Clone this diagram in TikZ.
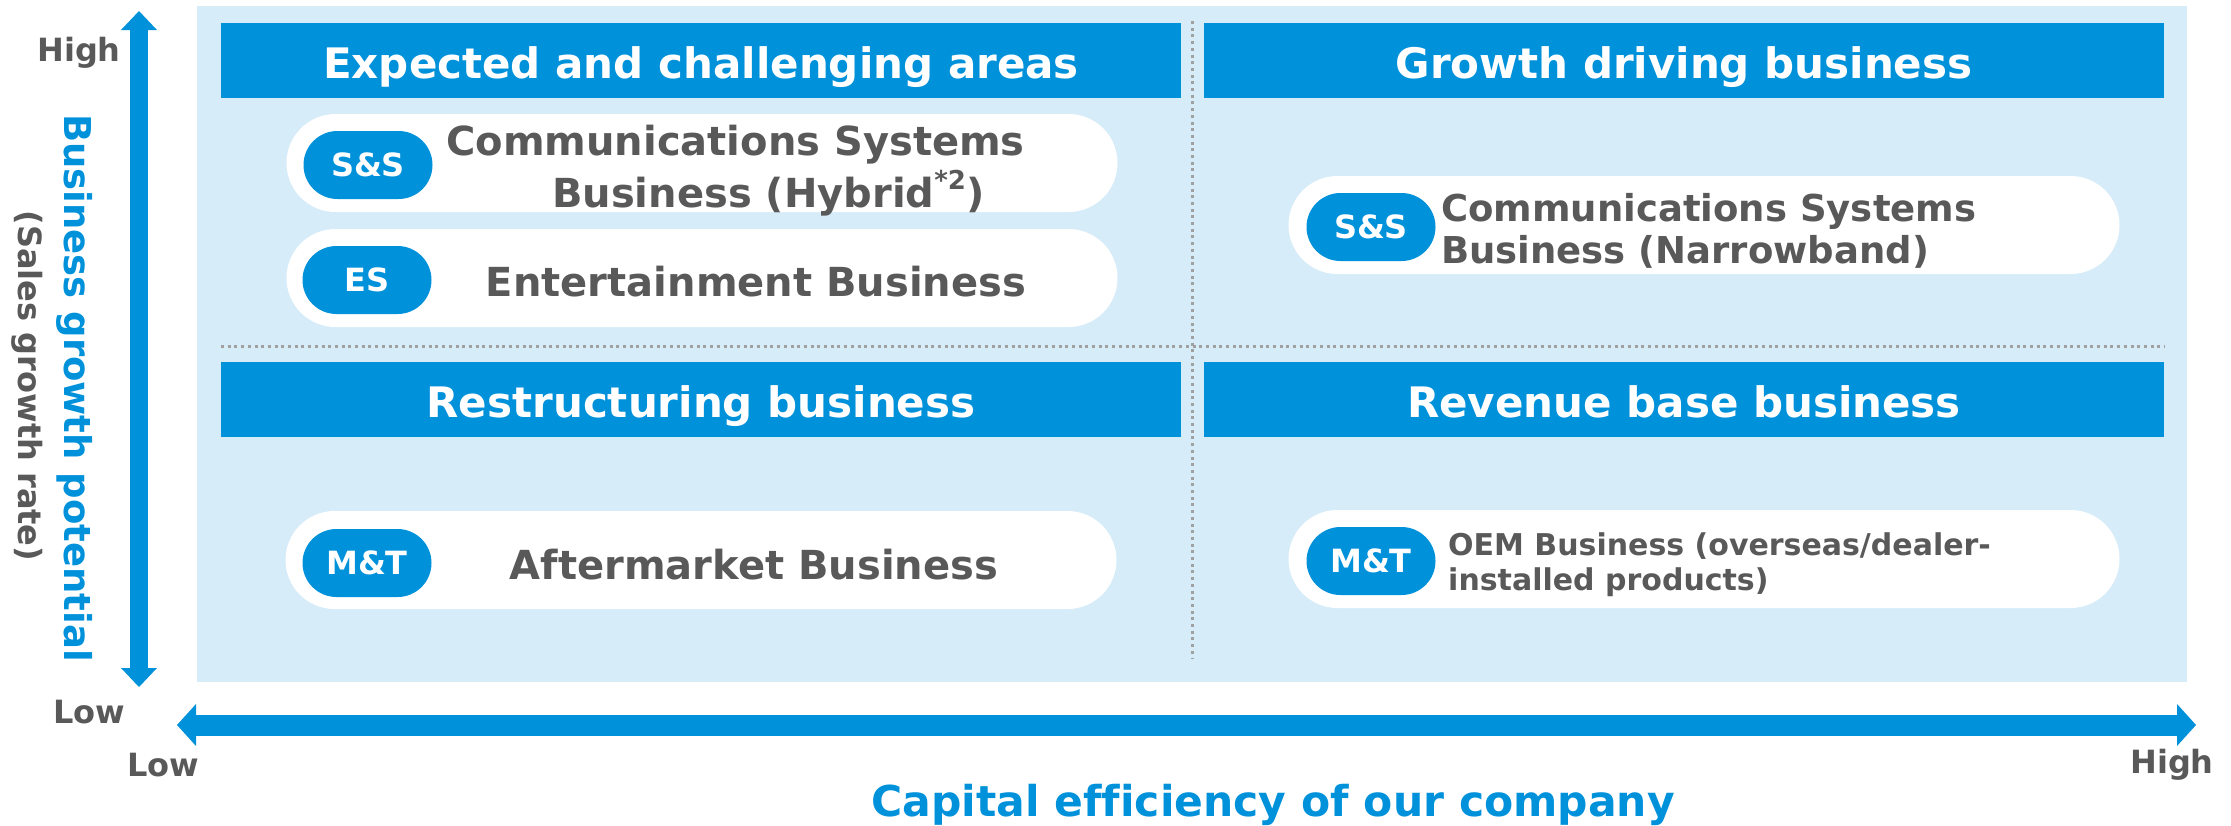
\documentclass[tikz,border=0pt]{standalone}
\usepackage{fontspec}
\setmainfont{DejaVu Sans}[Ligatures=NoCommon]
\usepackage{tikz}
\usetikzlibrary{arrows.meta}

\definecolor{segblue}{RGB}{0,145,219}
\definecolor{paleblue}{RGB}{214,236,249}
\definecolor{textgray}{RGB}{89,89,89}
\definecolor{dotgray}{RGB}{160,160,160}

\begin{document}
\begin{tikzpicture}[x=1pt, y=-1pt,
	header/.style={fill=segblue, text=white, inner sep=0pt,
		minimum width=960pt, minimum height=75pt, text height=36pt, text depth=0pt,
		font=\bfseries\fontsize{42}{50}\selectfont},
	pill/.style={fill=white, rounded corners=49pt, inner sep=0pt,
		minimum width=831pt, minimum height=98pt},
	badge/.style={fill=segblue, text=white, rounded corners=34pt, inner sep=0pt,
		minimum width=129pt, minimum height=68pt,
		font=\bfseries\fontsize{32}{38}\selectfont},
	biz/.style={text=textgray, inner sep=0pt, font=\bfseries\fontsize{40}{48}\selectfont},
	axislabel/.style={text=textgray, inner sep=0pt, font=\bfseries\fontsize{32}{38}\selectfont},
	divider/.style={dotgray, line width=3pt, dash pattern=on 3pt off 3.7pt},
	blockarrow/.style={segblue, line width=#1, >={Triangle[width=2*#1, length=19pt, line width=0pt]}, <->}]

	\useasboundingbox (0,0) rectangle (2231,825);
	\fill[paleblue] (197,6) rectangle (2187,682);

	% quadrant dividers
	\draw[divider] (1192,21) -- (1192,658);
	\draw[divider] (221,346) -- (2165,346);

	% quadrant titles
	\node[header] (hdrTL) at (701,60) {Expected and challenging areas};
	\node[header] (hdrTR) at (1684,60) {Growth driving business};
	\node[header] (hdrBL) at (701,399) {Restructuring business};
	\node[header] (hdrBR) at (1684,399) {Revenue base business};

	% business pills
	\node[pill] (hybPill) at (702,163) {};
	\node[pill] (entPill) at (702,278) {};
	\node[pill] (narPill) at (1704,225) {};
	\node[pill] (aftPill) at (701,560) {};
	\node[pill] (oemPill) at (1704,559) {};

	\node[badge] (hybTag) at (368,165) {S\&S};
	\node[badge] (entTag) at (367,280) {ES};
	\node[badge] (narTag) at (1371,227) {S\&S};
	\node[badge] (aftTag) at (367,563) {M\&T};
	\node[badge] (oemTag) at (1371,561) {M\&T};

	\node[biz, anchor=base west] (hyb1) at (446,155) {Communications Systems};
	\node[biz, anchor=base west] (hyb2) at (552,207)
		{Business (Hybrid\raisebox{0.45em}{\fontsize{26}{26}\selectfont *2})};
	\node[biz, anchor=base] (ent) at (756,296) {Entertainment Business};
	\node[biz, font=\bfseries\fontsize{37}{44}\selectfont, anchor=base west] (nar1) at (1441,221) {Communications Systems};
	\node[biz, font=\bfseries\fontsize{37}{44}\selectfont, anchor=base west] (nar2) at (1441,263) {Business (Narrowband)};
	\node[biz, anchor=base] (aft) at (754,579) {Aftermarket Business};
	\node[biz, font=\bfseries\fontsize{30}{36}\selectfont, anchor=base west] (oem1) at (1448,555) {OEM Business (overseas/dealer-};
	\node[biz, font=\bfseries\fontsize{30}{36}\selectfont, anchor=base west] (oem2) at (1448,590) {installed products)};

	% axes
	\coordinate (yLow) at (139,687);
	\coordinate (yHigh) at (139,11);
	\coordinate (xLow) at (177,725);
	\coordinate (xHigh) at (2196,725);
	\draw[blockarrow=18pt] (yLow) -- (yHigh);
	\draw[blockarrow=21pt] (xLow) -- (xHigh);

	\node[axislabel] (yHighLbl) at (79,53) {High};
	\node[axislabel] (yLowLbl) at (89,712) {Low};
	\node[axislabel] (xLowLbl) at (163,765) {Low};
	\node[axislabel] (xHighLbl) at (2172,765) {High};

	\node[text=segblue, inner sep=0pt, rotate=-90, font=\bfseries\fontsize{37}{44}\selectfont] (yTitle) at (75,388) {Business growth potential};
	\node[axislabel, rotate=-90] (ySub) at (27,386) {(Sales growth rate)};
	\node[text=segblue, inner sep=0pt, font=\bfseries\fontsize{42.5}{50}\selectfont] (xTitle) at (1273,805) {Capital efficiency of our company};
\end{tikzpicture}
\end{document}
